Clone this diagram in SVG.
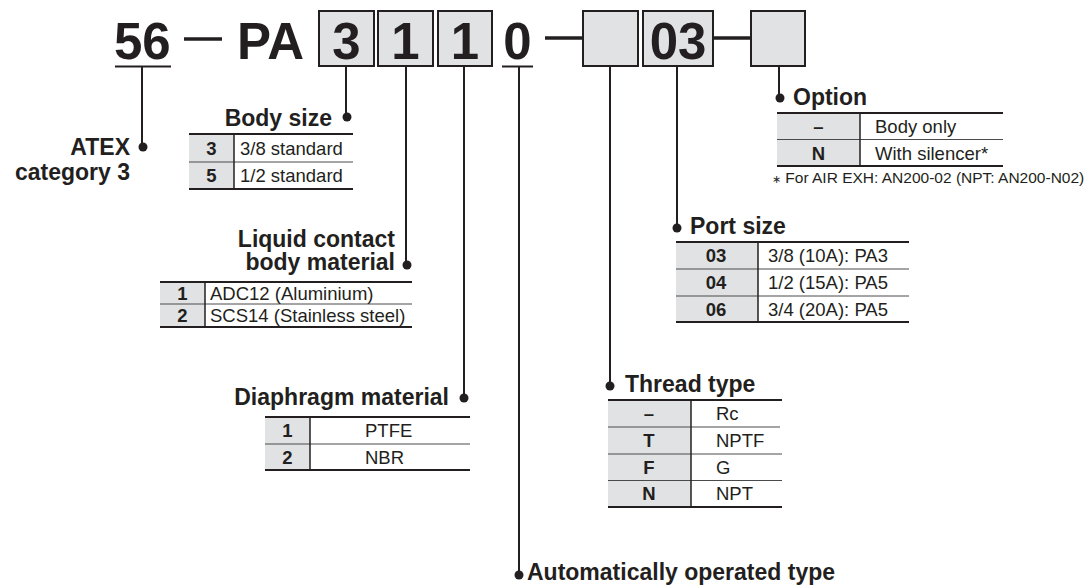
<svg xmlns="http://www.w3.org/2000/svg" width="1090" height="587" viewBox="0 0 1090 587">
<defs>
<style>
text{font-family:"Liberation Sans",Arial,Helvetica,sans-serif;fill:#231f20}
.big{font-size:51px;font-weight:bold}
.lbl{font-size:23px;font-weight:bold}
.cell{font-size:18.5px}
.key{font-size:18.5px;font-weight:bold;text-anchor:middle}
.box{fill:#e1e2e3;stroke:#231f20;stroke-width:2}
.grey{fill:#e1e2e3}
.rule{stroke:#231f20;stroke-width:2}
.sep{stroke:#4a4a4a;stroke-width:1}
.vdiv{stroke:#231f20;stroke-width:1.5}
.wire{stroke:#231f20;stroke-width:2;fill:none}
.dot{fill:#231f20}
.note{font-size:15.5px}
</style>
</defs>
<rect width="1090" height="587" fill="#ffffff"/>

<g id="header">
<text class="big" x="114" y="58.5">56</text>
<line class="rule" x1="115" y1="66.5" x2="171" y2="66.5"/>
<line x1="184" y1="39" x2="222" y2="39" stroke="#231f20" stroke-width="3.5"/>
<text class="big" x="237" y="58.5">PA</text>
<rect class="box" x="319" y="11" width="55" height="55"/>
<text class="big" x="346.5" y="58.5" text-anchor="middle">3</text>
<rect class="box" x="378" y="11" width="55" height="55"/>
<text class="big" x="405.5" y="58.5" text-anchor="middle">1</text>
<rect class="box" x="438" y="11" width="54" height="55"/>
<text class="big" x="465" y="58.5" text-anchor="middle">1</text>
<text class="big" x="517.5" y="58.5" text-anchor="middle">0</text>
<line class="rule" x1="502" y1="66.5" x2="533" y2="66.5"/>
<line x1="545" y1="38" x2="583" y2="38" stroke="#231f20" stroke-width="3.5"/>
<rect class="box" x="583" y="11" width="55" height="55"/>
<rect class="box" x="643" y="11" width="70" height="55"/>
<text class="big" x="678" y="58.5" text-anchor="middle">03</text>
<line x1="713" y1="38" x2="751" y2="38" stroke="#231f20" stroke-width="3.5"/>
<rect class="box" x="751" y="11" width="54" height="55"/>
</g>

<g id="connectors">
<line class="wire" x1="142" y1="67" x2="142" y2="147"/>
<circle class="dot" cx="143" cy="147" r="4.5"/>
<line class="wire" x1="346" y1="66" x2="346" y2="117"/>
<circle class="dot" cx="347" cy="117" r="4.5"/>
<line class="wire" x1="406" y1="66" x2="406" y2="265"/>
<circle class="dot" cx="407" cy="265" r="4.5"/>
<line class="wire" x1="464" y1="66" x2="464" y2="398"/>
<circle class="dot" cx="464" cy="398" r="4.5"/>
<line class="wire" x1="519" y1="67" x2="519" y2="575"/>
<circle class="dot" cx="519" cy="575" r="4.5"/>
<line class="wire" x1="610" y1="66" x2="610" y2="386"/>
<circle class="dot" cx="610" cy="386" r="4.5"/>
<line class="wire" x1="677" y1="66" x2="677" y2="228"/>
<circle class="dot" cx="677" cy="228" r="4.5"/>
<line class="wire" x1="779" y1="66" x2="779" y2="98"/>
<circle class="dot" cx="780" cy="98" r="4.5"/>
</g>

<g id="atex">
<text class="lbl" x="130" y="155" text-anchor="end">ATEX</text>
<text class="lbl" x="130" y="180" text-anchor="end">category 3</text>
</g>

<g id="body-size">
<text class="lbl" x="332" y="126" text-anchor="end">Body size</text>
<rect class="grey" x="189" y="134" width="45" height="55"/>
<line class="rule" x1="189" y1="134" x2="353" y2="134"/>
<line class="sep" x1="189" y1="162" x2="353" y2="162"/>
<line class="rule" x1="189" y1="189" x2="353" y2="189"/>
<line class="vdiv" x1="234" y1="134" x2="234" y2="189"/>
<text class="key" x="211.5" y="154.5">3</text>
<text class="cell" x="240" y="154.5">3/8 standard</text>
<text class="key" x="211.5" y="182">5</text>
<text class="cell" x="240" y="182">1/2 standard</text>
</g>

<g id="liquid-contact">
<text class="lbl" x="395" y="247" text-anchor="end">Liquid contact</text>
<text class="lbl" x="395" y="270" text-anchor="end">body material</text>
<rect class="grey" x="160" y="282" width="45" height="45"/>
<line class="rule" x1="160" y1="282" x2="412" y2="282"/>
<line class="sep" x1="160" y1="304" x2="412" y2="304"/>
<line class="rule" x1="160" y1="327" x2="412" y2="327"/>
<line class="vdiv" x1="205" y1="282" x2="205" y2="327"/>
<text class="key" x="182.5" y="299.5">1</text>
<text class="cell" x="210" y="299.5">ADC12 (Aluminium)</text>
<text class="key" x="182.5" y="322">2</text>
<text class="cell" x="210" y="322">SCS14 (Stainless steel)</text>
</g>

<g id="diaphragm">
<text class="lbl" x="449" y="405" text-anchor="end">Diaphragm material</text>
<rect class="grey" x="265" y="417" width="45" height="53"/>
<line class="rule" x1="265" y1="417" x2="470" y2="417"/>
<line class="sep" x1="265" y1="444" x2="470" y2="444"/>
<line class="rule" x1="265" y1="470" x2="470" y2="470"/>
<line class="vdiv" x1="310" y1="417" x2="310" y2="470"/>
<text class="key" x="287.5" y="437">1</text>
<text class="cell" x="365" y="437">PTFE</text>
<text class="key" x="287.5" y="463.5">2</text>
<text class="cell" x="365" y="463.5">NBR</text>
</g>

<g id="auto-type">
<text class="lbl" x="527" y="580">Automatically operated type</text>
</g>

<g id="thread-type">
<text class="lbl" x="625" y="392">Thread type</text>
<rect class="grey" x="608" y="400" width="83" height="107"/>
<line class="rule" x1="608" y1="400" x2="782" y2="400"/>
<line class="sep" x1="608" y1="427" x2="780" y2="427"/>
<line class="sep" x1="608" y1="454" x2="782" y2="454"/>
<line class="sep" x1="608" y1="480.5" x2="782" y2="480.5"/>
<line class="rule" x1="608" y1="507" x2="782" y2="507"/>
<line class="vdiv" x1="691" y1="400" x2="691" y2="507"/>
<text class="key" x="649" y="420">–</text>
<text class="cell" x="716" y="420">Rc</text>
<text class="key" x="649" y="447">T</text>
<text class="cell" x="716" y="447">NPTF</text>
<text class="key" x="649" y="473.5">F</text>
<text class="cell" x="716" y="473.5">G</text>
<text class="key" x="649" y="500">N</text>
<text class="cell" x="716" y="500">NPT</text>
</g>

<g id="port-size">
<text class="lbl" x="690" y="234">Port size</text>
<rect class="grey" x="676" y="242" width="82" height="80"/>
<line class="rule" x1="676" y1="242" x2="909" y2="242"/>
<line class="sep" x1="676" y1="269" x2="909" y2="269"/>
<line class="sep" x1="676" y1="296" x2="909" y2="296"/>
<line class="rule" x1="676" y1="322" x2="909" y2="322"/>
<line class="vdiv" x1="758" y1="242" x2="758" y2="322"/>
<text class="key" x="716" y="262">03</text>
<text class="cell" x="768" y="262">3/8 (10A): PA3</text>
<text class="key" x="716" y="289">04</text>
<text class="cell" x="768" y="289">1/2 (15A): PA5</text>
<text class="key" x="716" y="315.5">06</text>
<text class="cell" x="768" y="315.5">3/4 (20A): PA5</text>
</g>

<g id="option">
<text class="lbl" x="793" y="105">Option</text>
<rect class="grey" x="777" y="113" width="83" height="53"/>
<line class="rule" x1="777" y1="113" x2="1003" y2="113"/>
<line class="sep" x1="777" y1="139.5" x2="1003" y2="139.5"/>
<line class="rule" x1="777" y1="166" x2="1003" y2="166"/>
<line class="vdiv" x1="860" y1="113" x2="860" y2="166"/>
<text class="key" x="818.5" y="132.5">–</text>
<text class="cell" x="875" y="132.5">Body only</text>
<text class="key" x="818.5" y="159.5">N</text>
<text class="cell" x="875" y="159.5">With silencer*</text>
<text class="note" x="772" y="183"><tspan font-size="11">∗</tspan> For AIR EXH: AN200-02 (NPT: AN200-N02)</text>
</g>
</svg>
